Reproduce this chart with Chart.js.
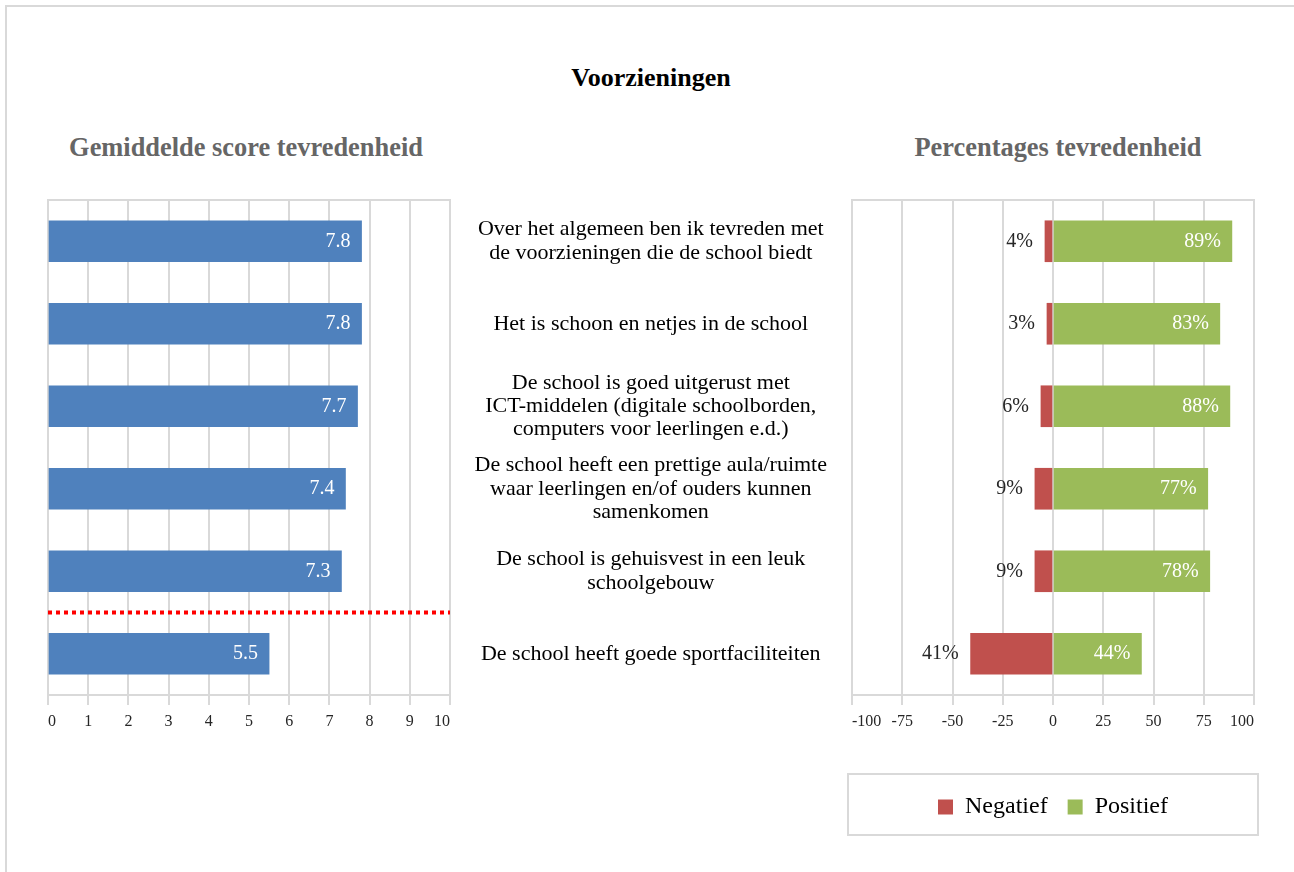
<!DOCTYPE html>
<html>
<head>
<meta charset="utf-8">
<script src="https://cdn.jsdelivr.net/npm/chart.js@4.4.0/dist/chart.umd.min.js"></script>
<style>
body { margin: 0; width: 1294px; height: 872px; overflow: hidden; background: #fff; position: relative; font-family: "Liberation Serif", serif; }
.kader { position: absolute; left: 5px; top: 5px; width: 1300px; height: 900px; border: 2px solid #d9d9d9; }
.titel { position: absolute; font-weight: bold; white-space: nowrap; transform: translate(-50%, -50%); }
#hoofd { left: 651px; top: 78px; font-size: 26px; color: #000; }
#sub1 { left: 246px; top: 147px; font-size: 26.4px; color: #666; }
#sub2 { left: 1058px; top: 147px; font-size: 26.4px; color: #666; }
.legendakader { position: absolute; left: 847px; top: 773px; width: 408px; height: 59px; border: 2px solid #d9d9d9; }
canvas { position: absolute; top: 0; }
#links { left: 0; }
#rechts { left: 460px; }
</style>
</head>
<body>
<div class="kader"></div>
<div class="titel" id="hoofd">Voorzieningen</div>
<div class="titel" id="sub1">Gemiddelde score tevredenheid</div>
<div class="titel" id="sub2">Percentages tevredenheid</div>
<div class="legendakader"></div>
<canvas id="links" width="470" height="760"></canvas>
<canvas id="rechts" width="834" height="872"></canvas>
<script>
var categorieen = [
    ['Over het algemeen ben ik tevreden met', 'de voorzieningen die de school biedt'],
    'Het is schoon en netjes in de school',
    ['De school is goed uitgerust met', 'ICT-middelen (digitale schoolborden,', 'computers voor leerlingen e.d.)'],
    ['De school heeft een prettige aula/ruimte', 'waar leerlingen en/of ouders kunnen', 'samenkomen'],
    ['De school is gehuisvest in een leuk', 'schoolgebouw'],
    'De school heeft goede sportfaciliteiten'
];
var gemiddeldeScore = [7.8, 7.8, 7.7, 7.4, 7.3, 5.5];
var negatief = [4, 3, 6, 9, 9, 41];
var positief = [89, 83, 88, 77, 78, 44];

var scoreMin = 0, scoreMax = 10, scoreStap = 1;
var procentMin = -100, procentMax = 100, procentStap = 25;

// stippellijn komt na deze rij (index)
var grensNaRij = 4;

var letter = 'Liberation Serif';
var grijs = '#d9d9d9';

function maakLabels(tekst) {
    return {
        id: 'waardeLabels',
        afterDatasetsDraw: function (chart) {
            var ctx = chart.ctx;
            ctx.save();
            ctx.font = '20px "' + letter + '"';
            ctx.textBaseline = 'middle';
            ctx.textAlign = 'right';
            chart.data.datasets.forEach(function (ds, d) {
                chart.getDatasetMeta(d).data.forEach(function (bar, i) {
                    if (ds.data[i] < 0) {
                        ctx.fillStyle = '#262626';
                        ctx.fillText(tekst(d, i), bar.x - 12, bar.y);
                    } else {
                        ctx.fillStyle = '#fff';
                        ctx.fillText(tekst(d, i), bar.x - 11, bar.y);
                    }
                });
            });
            ctx.restore();
        }
    };
}

var grenslijn = {
    id: 'grenslijn',
    afterDatasetsDraw: function (chart) {
        var y = chart.scales.y;
        var py = (y.getPixelForValue(grensNaRij) + y.getPixelForValue(grensNaRij + 1)) / 2;
        var ctx = chart.ctx;
        ctx.save();
        ctx.strokeStyle = '#ff0000';
        ctx.lineWidth = 4;
        ctx.setLineDash([4, 4]);
        ctx.beginPath();
        ctx.moveTo(chart.chartArea.left, py);
        ctx.lineTo(chart.chartArea.right, py);
        ctx.stroke();
        ctx.restore();
    }
};

function xAs(min, max, stap, hoogte) {
    return {
        min: min,
        max: max,
        ticks: { stepSize: stap, align: 'inner', padding: 7, color: '#262626', font: { family: letter, size: 16 } },
        grid: { color: grijs, lineWidth: 2, tickLength: 10 },
        border: { color: grijs, width: 2 },
        afterFit: function (s) { s.height = hoogte; }
    };
}

var bovenrand = {
    position: 'top',
    ticks: { display: false },
    grid: { display: false, drawTicks: false },
    border: { color: grijs, width: 2 }
};

new Chart(document.getElementById('links'), {
    type: 'bar',
    data: {
        labels: categorieen,
        datasets: [{
            label: 'Gemiddelde score',
            data: gemiddeldeScore,
            backgroundColor: '#4F81BD',
            barThickness: 41
        }]
    },
    options: {
        indexAxis: 'y',
        responsive: false,
        animation: false,
        layout: { padding: { left: 48, top: 200, right: 20, bottom: 25 } },
        plugins: { legend: { display: false }, tooltip: { enabled: false } },
        scales: {
            x: xAs(scoreMin, scoreMax, scoreStap, 40),
            xBoven: bovenrand,
            y: { display: false }
        }
    },
    plugins: [maakLabels(function (d, i) { return gemiddeldeScore[i].toFixed(1); }), grenslijn]
});

var rechtsX = xAs(procentMin, procentMax, procentStap, 80);
rechtsX.stacked = true;

new Chart(document.getElementById('rechts'), {
    type: 'bar',
    data: {
        labels: categorieen,
        datasets: [{
            label: 'Negatief',
            data: negatief.map(function (v) { return -v; }),
            backgroundColor: '#C0504D',
            barThickness: 41
        }, {
            label: 'Positief',
            data: positief,
            backgroundColor: '#9BBB59',
            barThickness: 41
        }]
    },
    options: {
        indexAxis: 'y',
        responsive: false,
        animation: false,
        layout: { padding: { left: 0, top: 200, right: 40, bottom: 43 } },
        plugins: {
            legend: {
                position: 'bottom',
                fullSize: false,
                labels: { boxWidth: 15, boxHeight: 15, padding: 20, color: '#000', font: { family: letter, size: 24 } }
            },
            tooltip: { enabled: false }
        },
        scales: {
            x: rechtsX,
            xBoven: bovenrand,
            y: {
                stacked: true,
                grid: { display: false, drawTicks: false },
                border: { display: false },
                ticks: { crossAlign: 'center', padding: 25, color: '#000', font: { family: letter, size: 22, lineHeight: 1.06 } },
                afterFit: function (s) { s.width = 392; }
            }
        }
    },
    plugins: [maakLabels(function (d, i) { return (d === 0 ? negatief[i] : positief[i]) + '%'; })]
});
</script>
</body>
</html>
